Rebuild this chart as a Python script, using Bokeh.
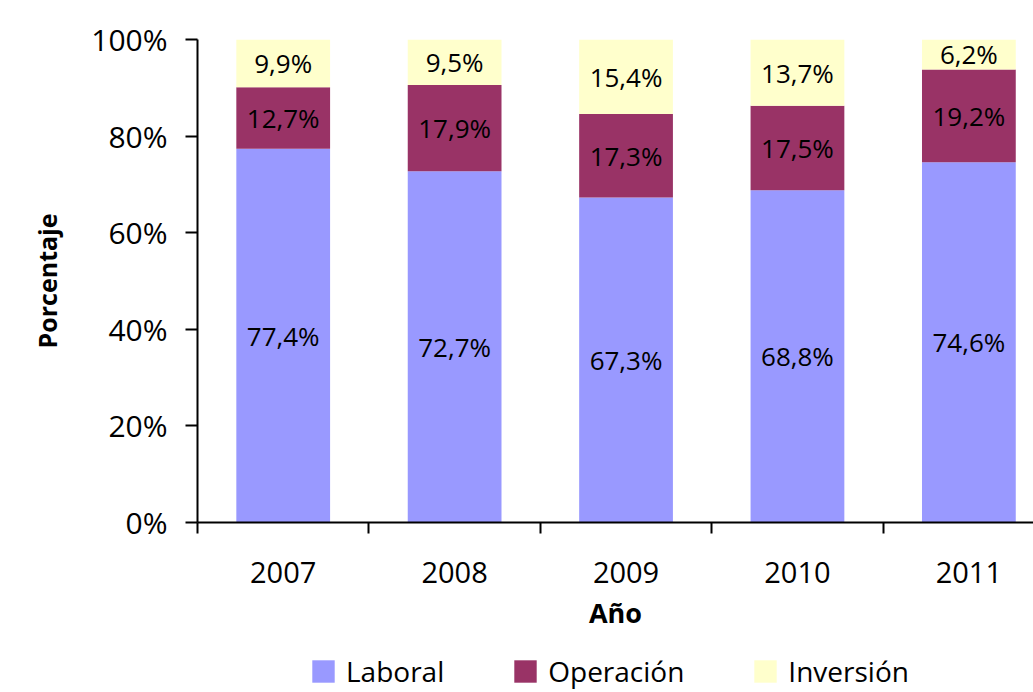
from bokeh.plotting import figure
from bokeh.layouts import column
from bokeh.models import ColumnDataSource, FixedTicker, Legend, LegendItem, LabelSet
from bokeh.core.properties import value
from bokeh.embed import file_html
from bokeh.resources import INLINE

years = ["2007", "2008", "2009", "2010", "2011"]
laboral = [77.4, 72.7, 67.3, 68.8, 74.6]
operacion = [12.7, 17.9, 17.3, 17.5, 19.2]
inversion = [9.9, 9.5, 15.4, 13.7, 6.2]
series_names = ["Laboral", "Operación", "Inversión"]
colors = ["#9999FF", "#993366", "#FFFFCC"]
y_ticks = [0, 20, 40, 60, 80, 100]

FONT = "Open Sans"

xs = [i + 0.5 for i in range(len(years))]
src = ColumnDataSource(dict(x=xs, Laboral=laboral, Operación=operacion, Inversión=inversion))

p = figure(width=1033, height=645, output_backend="svg", toolbar_location=None,
           x_range=(0, 4.877), y_range=(0, 100),
           min_border_left=197, min_border_top=39, min_border_bottom=123, min_border_right=0)
p.frame_width = 836
p.frame_height = 483
p.outline_line_color = None
p.background_fill_color = "white"
p.border_fill_color = "white"
p.xgrid.grid_line_color = None
p.ygrid.grid_line_color = None

p.vbar_stack(series_names, x="x", width=0.547, color=colors, source=src, line_color=None)

# labels centred in segments
bottoms = [0.0] * len(years)
lab_x, lab_y, lab_t = [], [], []
for vals in (laboral, operacion, inversion):
    for i, v in enumerate(vals):
        lab_x.append(xs[i])
        lab_y.append(bottoms[i] + v / 2)
        lab_t.append(f"{v:.1f}%".replace(".", ","))
        bottoms[i] += v
lsrc = ColumnDataSource(dict(x=lab_x, y=lab_y, t=lab_t))
labels = LabelSet(x="x", y="y", text="t", source=lsrc, text_align="center", text_baseline="middle",
                  text_font=value(FONT), text_font_size="26px", text_color="black")
p.add_layout(labels)

# x axis
xa = p.xaxis[0]
xa.ticker = FixedTicker(ticks=xs, minor_ticks=list(range(len(years) + 1)))
xa.major_label_overrides = {x: y for x, y in zip(xs, years)}
xa.major_tick_line_color = None
xa.minor_tick_line_color = "black"
xa.minor_tick_line_width = 2
xa.minor_tick_out = 11
xa.minor_tick_in = 0
xa.axis_line_width = 2
xa.axis_line_color = "black"
xa.major_label_text_font = FONT
xa.major_label_text_font_size = "29px"
xa.major_label_text_color = "black"
xa.major_label_standoff = 28
xa.axis_label = "Año"
xa.axis_label_text_font = FONT
xa.axis_label_text_font_size = "27px"
xa.axis_label_text_font_style = "bold"
xa.axis_label_text_color = "black"
xa.axis_label_standoff = 8

# y axis
ya = p.yaxis[0]
ya.ticker = FixedTicker(ticks=y_ticks, minor_ticks=[])
ya.major_label_overrides = {t: f"{t}%" for t in y_ticks}
ya.major_tick_line_width = 2
ya.major_tick_line_color = "black"
ya.major_tick_out = 12
ya.major_tick_in = 0
ya.axis_line_width = 2
ya.axis_line_color = "black"
ya.major_label_text_font = FONT
ya.major_label_text_font_size = "30px"
ya.major_label_text_color = "black"
ya.major_label_standoff = 18
ya.axis_label = "Porcentaje"
ya.axis_label_text_font = FONT
ya.axis_label_text_font_size = "25px"
ya.axis_label_text_font_style = "bold"
ya.axis_label_text_color = "black"
ya.axis_label_standoff = 24

# legend strip below the chart (its bars lie outside its visible range)
lp = figure(width=1033, height=47, output_backend="svg", toolbar_location=None,
            x_range=(0, 4.877), y_range=(200, 300), x_axis_type=None, y_axis_type=None,
            min_border=0)
lp.outline_line_color = None
lp.background_fill_color = "white"
lp.border_fill_color = "white"
lp.xgrid.grid_line_color = None
lp.ygrid.grid_line_color = None
lrs = lp.vbar_stack(series_names, x="x", width=0.547, color=colors, source=src, line_color=None)

legend = Legend(items=[LegendItem(label=n, renderers=[r]) for n, r in zip(series_names, lrs)],
                orientation="horizontal", location=(112, 2),
                glyph_width=28, glyph_height=28, label_standoff=9, spacing=67,
                label_text_font=FONT, label_text_font_size="28px", label_text_color="black",
                border_line_color=None, background_fill_alpha=0, padding=0, margin=0)
lp.add_layout(legend)

layout = column(p, lp, spacing=0)
open("out.html", "w").write(file_html(layout, INLINE))
